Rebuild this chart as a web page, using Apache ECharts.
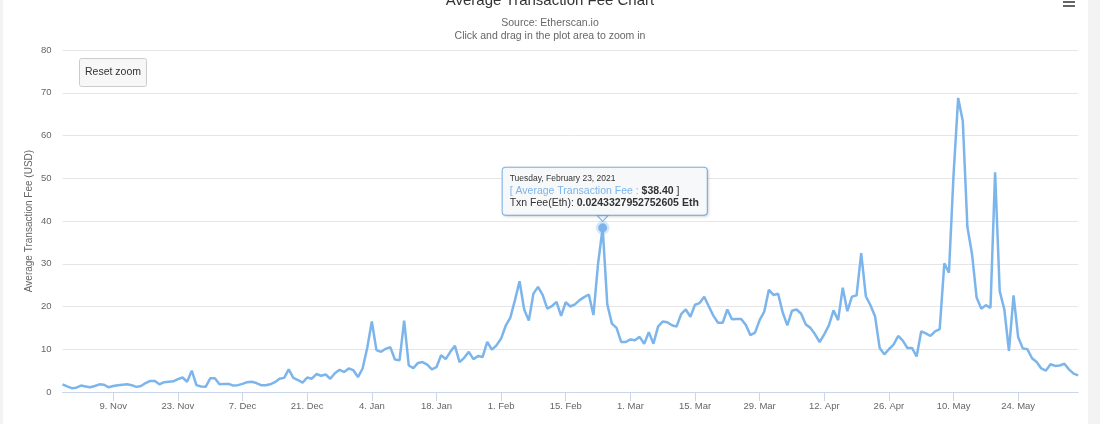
<!DOCTYPE html>
<html>
<head>
<meta charset="utf-8">
<script src="https://cdn.jsdelivr.net/npm/echarts@6/dist/echarts.min.js"></script>
<style>
  html, body { margin: 0; padding: 0; background: #f3f3f3; }
  #panel { position: absolute; left: 3px; top: 0; width: 1085px; height: 424px; background: #ffffff; }
  #chart { position: absolute; left: 0; top: 0; width: 1100px; height: 424px; }
</style>
</head>
<body>
<div id="panel"></div>
<div id="chart"></div>
<script>
// ---- Data (daily average transaction fee, USD) ----
const START_DATE = '2020-10-29';
const MONTHS = ['Jan','Feb','Mar','Apr','May','Jun','Jul','Aug','Sep','Oct','Nov','Dec'];
const feeUSD = [
  1.8, 1.3, 0.9, 1.0, 1.5, 1.3, 1.1, 1.4, 1.8, 1.7,
  1.1, 1.4, 1.6, 1.7, 1.8, 1.6, 1.2, 1.4, 2.1, 2.6,
  2.6, 1.8, 2.3, 2.4, 2.5, 3.0, 3.4, 2.4, 5.0, 1.6,
  1.3, 1.2, 3.2, 3.2, 1.8, 1.9, 1.9, 1.5, 1.6, 1.9,
  2.3, 2.4, 2.1, 1.6, 1.6, 1.8, 2.3, 3.1, 3.3, 5.3,
  3.3, 2.8, 2.2, 3.4, 3.1, 4.2, 3.8, 4.1, 3.1, 4.4,
  5.2, 4.7, 5.5, 5.1, 3.5, 5.5, 10.3, 16.5, 9.8, 9.4,
  10.1, 10.5, 7.6, 7.4, 16.7, 6.2, 5.6, 6.8, 7.0, 6.4,
  5.3, 5.8, 8.6, 7.7, 9.4, 10.8, 7.0, 8.0, 9.4, 7.7,
  8.4, 8.2, 11.7, 9.9, 10.9, 12.5, 15.5, 17.4, 21.5, 25.9,
  19.3, 16.7, 23.0, 24.6, 22.7, 19.5, 20.1, 21.1, 17.8, 21.0,
  20.0, 20.5, 21.5, 22.2, 22.8, 18.0, 30.0, 38.4, 20.5, 16.0,
  15.0, 11.7, 11.7, 12.3, 12.1, 12.9, 11.3, 14.0, 11.3, 15.3,
  16.5, 16.3, 15.6, 15.3, 18.2, 19.3, 17.6, 20.4, 20.8, 22.3,
  20.0, 17.8, 16.2, 16.2, 19.3, 17.0, 17.1, 17.1, 15.7, 13.3,
  13.9, 16.8, 18.8, 23.9, 22.7, 23.0, 18.6, 15.6, 19.0, 19.3,
  18.3, 15.8, 15.0, 13.5, 11.7, 13.5, 15.6, 19.1, 16.8, 24.4,
  18.9, 22.3, 22.6, 32.5, 22.4, 20.3, 17.7, 10.3, 8.8, 10.0,
  11.1, 13.1, 12.0, 10.3, 10.3, 8.3, 14.2, 13.7, 13.1, 14.2,
  14.7, 30.1, 27.9, 50.8, 68.8, 63.4, 38.6, 32.3, 22.1, 19.5,
  20.3, 19.7, 51.4, 23.6, 19.3, 9.6, 22.6, 12.8, 10.2, 10.0,
  7.9, 7.0, 5.5, 5.0, 6.5, 6.1, 6.2, 6.6, 5.3, 4.3, 3.9
];
const yTicks = [0, 10, 20, 30, 40, 50, 60, 70, 80];
const TICK_START_INDEX = 11;   // 9 Nov 2020
const TICK_STEP_DAYS = 14;

// highlighted point (tooltip)
const HL_INDEX = 117;                  // 23 Feb 2021
const HL_DATE_TEXT = 'Tuesday, February 23, 2021';
const HL_FEE_ETH = '0.0243327952752605';

// ---- categories built from start date ----
const dates = [];
const labels = [];
(function () {
  const s = new Date(START_DATE + 'T00:00:00Z');
  for (let i = 0; i < feeUSD.length; i++) {
    const d = new Date(s.getTime() + i * 86400000);
    dates.push(d.toISOString().slice(0, 10));
    labels.push(d.getUTCDate() + '. ' + MONTHS[d.getUTCMonth()]);
  }
})();
const showTick = (i) => i >= TICK_START_INDEX && (i - TICK_START_INDEX) % TICK_STEP_DAYS === 0;

const FONT = 'Liberation Sans, Arial, sans-serif';
const LINE_COLOR = '#7cb5ec';
const TIP_BG = 'rgba(248,249,251,0.97)';

const chart = echarts.init(document.getElementById('chart'), null, { renderer: 'canvas' });
chart.setOption({
  animation: false,
  textStyle: { fontFamily: FONT },
  title: [
    { text: 'Average Transaction Fee Chart', left: 'center', top: -12,
      textStyle: { fontSize: 15, fontWeight: 'normal', color: '#333333', fontFamily: FONT } },
    { text: 'Source: Etherscan.io', left: 'center', top: 13,
      textStyle: { fontSize: 10.5, fontWeight: 'normal', color: '#666666', fontFamily: FONT } },
    { text: 'Click and drag in the plot area to zoom in', left: 'center', top: 26,
      textStyle: { fontSize: 10.5, fontWeight: 'normal', color: '#666666', fontFamily: FONT } }
  ],
  grid: { left: 62.5, right: 21.8, top: 50, bottom: 32, containLabel: false },
  xAxis: {
    type: 'category',
    data: dates,
    boundaryGap: false,
    axisLine: { show: true, lineStyle: { color: '#ccd6eb', width: 1 } },
    axisTick: { show: true, interval: (i) => showTick(i), length: 9, lineStyle: { color: '#ccd6eb' } },
    axisLabel: {
      interval: (i) => showTick(i),
      formatter: (v, i) => labels[i],
      color: '#666666', fontSize: 9.5, margin: 9, fontFamily: FONT
    },
    splitLine: { show: false }
  },
  yAxis: {
    type: 'value',
    min: yTicks[0], max: yTicks[yTicks.length - 1], interval: yTicks[1] - yTicks[0],
    name: 'Average Transaction Fee (USD)',
    nameLocation: 'middle', nameRotate: 90, nameGap: 28,
    nameMoveOverlap: false,
    nameTextStyle: { color: '#666666', fontSize: 10, fontFamily: FONT },
    axisLine: { show: false }, axisTick: { show: false },
    axisLabel: { color: '#666666', fontSize: 9.5, margin: 11, fontFamily: FONT },
    splitLine: { lineStyle: { color: '#e6e6e6', width: 1 } }
  },
  series: [{
    name: 'Average Transaction Fee',
    type: 'line',
    data: feeUSD,
    showSymbol: false,
    symbol: 'none',
    lineStyle: { color: LINE_COLOR, width: 2.5 },
    itemStyle: { color: LINE_COLOR },
    z: 3,
    markPoint: {
      silent: true,
      animation: false,
      data: [
        {
          coord: [dates[HL_INDEX], feeUSD[HL_INDEX]],
          symbol: 'circle',
          symbolSize: 9,
          itemStyle: { color: LINE_COLOR, borderColor: 'rgba(124,181,236,0.3)', borderWidth: 5 },
          label: {
            show: true,
            position: 'top',
            distance: 6,
            offset: [-100, 0],
            backgroundColor: TIP_BG,
            borderColor: LINE_COLOR,
            borderWidth: 1,
            borderRadius: 3,
            padding: [5, 8, 5, 7],
            shadowBlur: 3, shadowColor: 'rgba(0,0,0,0.15)', shadowOffsetX: 1, shadowOffsetY: 1,
            align: 'left',
            formatter: () =>
              '{d|' + HL_DATE_TEXT + '}\n' +
              '{n|[ Average Transaction Fee : }{v|$' + feeUSD[HL_INDEX].toFixed(2) + '}{b| ]}\n' +
              '{t|Txn Fee(Eth): }{e|' + HL_FEE_ETH + ' Eth}',
            rich: {
              d: { fontSize: 8.5, color: '#333333', lineHeight: 12, fontFamily: FONT },
              n: { fontSize: 10.5, color: '#7cb5ec', lineHeight: 12.5, fontFamily: FONT },
              v: { fontSize: 10.5, color: '#333333', fontWeight: 'bold', lineHeight: 12.5, fontFamily: FONT },
              b: { fontSize: 10.5, color: '#333333', lineHeight: 12.5, fontFamily: FONT },
              t: { fontSize: 10.5, color: '#333333', lineHeight: 12.5, fontFamily: FONT },
              e: { fontSize: 10.5, color: '#333333', fontWeight: 'bold', lineHeight: 12.5, fontFamily: FONT }
            }
          }
        },
        {
          coord: [dates[HL_INDEX], feeUSD[HL_INDEX]],
          symbol: 'path://M0,0 L10,0 L5,6 Z',
          symbolSize: [11, 6],
          symbolOffset: [0, -9.5],
          itemStyle: { color: TIP_BG, borderColor: LINE_COLOR, borderWidth: 1 },
          label: { show: false }
        }
      ]
    }
  }],
  graphic: [
    {
      type: 'group', left: 79, top: 58, silent: true,
      children: [
        { type: 'rect', shape: { x: 0, y: 0, width: 67, height: 28, r: 2 },
          style: { fill: '#f7f7f7', stroke: '#cccccc', lineWidth: 1 } },
        { type: 'text', x: 33.5, y: 14,
          style: { text: 'Reset zoom', fill: '#333333', fontSize: 10.5, fontFamily: FONT,
                   textAlign: 'center', textVerticalAlign: 'middle' } }
      ]
    },
    {
      type: 'group', left: 1063, top: -3, silent: true,
      children: [
        { type: 'rect', shape: { x: 0, y: 0, width: 12, height: 2 }, style: { fill: '#666666' } },
        { type: 'rect', shape: { x: 0, y: 4, width: 12, height: 2 }, style: { fill: '#666666' } },
        { type: 'rect', shape: { x: 0, y: 8, width: 12, height: 2 }, style: { fill: '#666666' } }
      ]
    }
  ]
});
</script>
</body>
</html>
